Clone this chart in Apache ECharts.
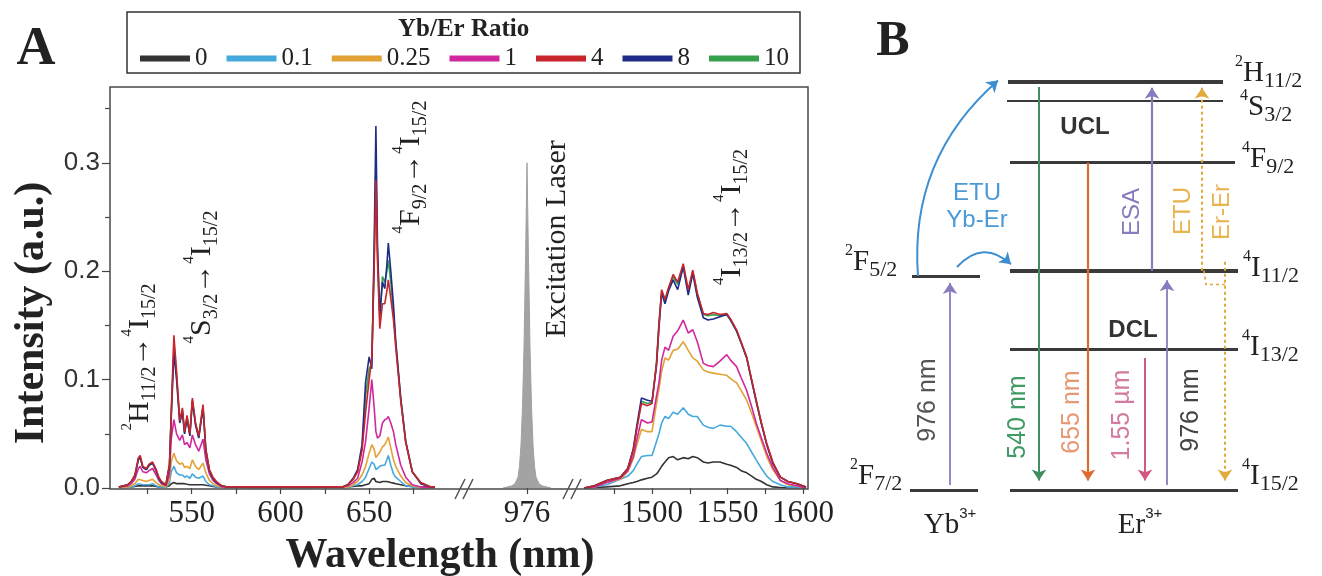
<!DOCTYPE html>
<html><head><meta charset="utf-8">
<script src="https://cdn.jsdelivr.net/npm/echarts@6/dist/echarts.min.js"></script>
<style>html,body{margin:0;padding:0;background:#fff}#c{width:1322px;height:576px}</style>
</head><body><div id="c"></div>
<script>
// ================= Panel A data =================
const RATIOS = ['0','0.1','0.25','1','4','8','10'];
// visible segment (green + red upconversion bands), nm
const WL_VIS = [509,514,516,518,520,521,522.5,524.5,526,528,530,531.5,533,535.5,537.5,538.5,540,541.5,543.3,544.8,546,547.4,549,550.4,552.2,554,556.4,558,560,562,564,567,570,580,600,620,635,638,641,643.5,646,648,650,651.5,652.8,653.8,654.7,656,657.5,658.8,660,660.8,662.2,663.7,665,667.8,670.6,674.3,679,684.7,687];
const VIS_0   = [.001,.001,.001,.0015,.002,.002,.002,.002,.002,.002,.0015,.001,.001,.001,.002,.004,.005,.004,.004,.004,.004,.0035,.003,.003,.003,.003,.003,.0025,.002,.0015,.001,.001,.001,.001,.001,.001,.001,.001,.0015,.002,.002,.003,.004,.008,.009,.006,.005,.005,.006,.006,.006,.006,.005,.0045,.004,.003,.002,.0015,.001,.001,.001];
const VIS_01  = [0,.0005,.001,.002,.004,.004,.003,.003,.003,.004,.002,.001,.001,.0005,.005,.015,.020,.014,.012,.012,.010,.011,.009,.013,.010,.009,.011,.006,.003,.002,.001,.0005,0,0,0,0,0,.0005,.002,.003,.006,.010,.018,.024,.022,.017,.017,.020,.021,.021,.026,.030,.021,.013,.010,.006,.002,.001,0,0,0];
const VIS_025 = [.0005,.001,.002,.004,.008,.009,.007,.006,.007,.008,.005,.003,.002,.001,.008,.024,.032,.025,.022,.023,.019,.020,.018,.026,.020,.017,.023,.014,.007,.004,.002,.001,.0005,.0005,.0005,.0005,.0005,.001,.003,.006,.012,.020,.032,.040,.036,.028,.027,.033,.038,.040,.044,.047,.037,.026,.020,.011,.005,.002,.0005,.0005,.0005];
const VIS_1   = [.001,.002,.004,.008,.018,.020,.015,.014,.016,.018,.012,.007,.004,.002,.012,.045,.063,.050,.044,.049,.040,.042,.037,.049,.040,.034,.045,.026,.013,.007,.004,.001,.001,.0005,.0005,.0005,.001,.002,.005,.009,.024,.043,.074,.100,.075,.052,.046,.048,.060,.063,.064,.066,.060,.052,.040,.021,.010,.003,.001,.0005,.0005];
const VIS_4   = [.001,.003,.006,.012,.028,.030,.020,.018,.022,.024,.017,.010,.006,.003,.022,.070,.141,.108,.062,.074,.052,.067,.050,.083,.060,.048,.077,.036,.017,.010,.006,.002,.001,.001,.001,.001,.001,.003,.008,.015,.035,.070,.100,.120,.200,.284,.210,.147,.170,.170,.182,.192,.175,.155,.130,.080,.042,.015,.005,.001,.001];
const VIS_8   = [.001,.003,.006,.011,.026,.028,.019,.017,.021,.023,.016,.009,.005,.003,.020,.065,.125,.100,.060,.070,.050,.064,.048,.080,.058,.046,.074,.034,.016,.009,.005,.002,.001,.001,.001,.001,.001,.003,.009,.017,.040,.098,.121,.110,.221,.334,.224,.160,.190,.184,.206,.226,.200,.169,.135,.083,.043,.015,.004,.001,.001];
const VIS_10  = [.001,.003,.006,.011,.027,.029,.019,.017,.021,.023,.016,.009,.005,.003,.021,.067,.132,.104,.061,.072,.051,.065,.049,.081,.059,.047,.075,.035,.016,.009,.005,.002,.001,.001,.001,.001,.001,.003,.008,.016,.037,.085,.110,.115,.210,.295,.215,.155,.195,.190,.200,.210,.190,.162,.133,.082,.043,.015,.005,.001,.001];
// infrared segment (4I13/2 -> 4I15/2 band), nm
const WL_IR = [1455,1462,1470,1479,1484,1487.6,1490,1493,1497,1500,1503,1504.6,1506.4,1508.6,1511,1514,1517,1520.7,1524,1527,1530,1534,1537,1540.6,1545,1549.5,1552,1556,1559,1562.7,1566,1569,1572.5,1576,1580,1585,1590,1596,1602];
const IR_0   = [0,.0005,.001,.002,.004,.005,.006,.0075,.009,.010,.013,.016,.020,.024,.028,.029,.026,.028,.027,.029,.028,.024,.023,.024,.024,.022,.021,.019,.016,.014,.011,.008,.006,.003,.001,.0005,0,0,0];
const IR_01  = [0,.001,.003,.008,.011,.016,.022,.029,.030,.030,.043,.050,.060,.066,.064,.070,.068,.074,.068,.066,.066,.058,.056,.055,.058,.057,.057,.052,.047,.041,.033,.026,.018,.011,.006,.003,.001,.001,0];
const IR_025 = [0,.001,.005,.008,.015,.027,.040,.054,.052,.052,.078,.091,.108,.120,.118,.127,.128,.135,.127,.120,.117,.109,.107,.106,.105,.104,.101,.097,.090,.081,.069,.057,.043,.029,.017,.007,.003,.002,0];
const IR_1   = [0,.001,.005,.009,.016,.029,.045,.063,.060,.061,.085,.097,.118,.130,.127,.140,.145,.155,.143,.146,.135,.115,.113,.112,.117,.123,.118,.112,.102,.090,.075,.060,.046,.032,.019,.007,.004,.002,0];
const IR_4   = [0,.002,.007,.010,.018,.035,.055,.078,.076,.078,.115,.150,.183,.174,.185,.197,.190,.207,.183,.201,.180,.161,.160,.162,.160,.161,.156,.146,.135,.121,.100,.081,.060,.041,.024,.010,.006,.004,.001];
const IR_8   = [0,.002,.007,.010,.018,.036,.058,.083,.081,.080,.113,.148,.180,.170,.182,.192,.183,.204,.178,.198,.176,.157,.155,.156,.158,.160,.155,.145,.134,.120,.099,.080,.059,.040,.023,.010,.006,.004,.001];
const IR_10  = [0,.002,.007,.010,.018,.035,.056,.080,.078,.079,.116,.152,.182,.173,.184,.195,.188,.205,.181,.200,.179,.160,.159,.160,.159,.160,.155,.145,.134,.120,.099,.080,.059,.040,.023,.010,.006,.004,.001];
// excitation laser
const LASER_WL = [960,966,968,970,971,972,973,974,975,976,977,978,979,980,981,982,984,986,992];
const LASER_I  = [0,.002,.004,.010,.020,.040,.075,.130,.210,.300,.210,.130,.075,.040,.020,.010,.004,.002,0];
// tick values / labels
const TICKS_VIS = [525,550,575,600,625,650,675];
const LABELS_VIS = [550,600,650];
const TICKS_LASER = [976];
const TICKS_IR = [1475,1500,1525,1550,1575,1600];
const LABELS_IR = [1500,1550,1600];
const Y_MAJOR = [0,0.1,0.2,0.3];
const Y_MINOR = [0.05,0.15,0.25,0.35];

// ================= Panel B data (energy in cm^-1) =================
const ER_LEVELS = ['2H11/2','4S3/2','4F9/2','4I11/2','4I13/2','4I15/2'];
const ER_E = [19124,18234,15330,10272,6604,0];
const YB_LEVELS = ['2F5/2','2F7/2'];
const YB_E = [10023,0];

// ================= layout / style (not data) =================
const SERIF = 'Liberation Serif', SANS = 'Liberation Sans';
const COLORS = {'0':'#333333','0.1':'#45a9dc','0.25':'#e2a236','1':'#d0289c','4':'#c8242b','8':'#1e2c88','10':'#37a04c'};
const DRAW_ORDER = ['0','0.1','0.25','1','10','8','4'];
const VIS = {'0':VIS_0,'0.1':VIS_01,'0.25':VIS_025,'1':VIS_1,'4':VIS_4,'8':VIS_8,'10':VIS_10};
const IR = {'0':IR_0,'0.1':IR_01,'0.25':IR_025,'1':IR_1,'4':IR_4,'8':IR_8,'10':IR_10};
const ER_X = [[128,343],[127,343],[130,355],[130,358],[130,358],[130,358]];
const YB_X = [[32,100],[30,98]];
const ER_W = [4,2,3,4,3,3];
const YB_W = [3,3];
const PURPLE='#8a7bbd', BLUE='#3d8fd1', GREEN='#3f8f62', ORANGE='#de6b2c', PINK='#d3587f', GOLD='#e2a93c';

const zip = (xs, ys) => xs.map((x,i)=>[x, ys[i]]);
const series = [];
DRAW_ORDER.forEach(r => {
  const base = {type:'line', name:r, symbol:'none', showSymbol:false, silent:true, animation:false,
    lineStyle:{width:1.6, color:COLORS[r]}, itemStyle:{color:COLORS[r]}};
  series.push(Object.assign({}, base, {xAxisIndex:0, yAxisIndex:0, data:zip(WL_VIS, VIS[r])}));
  series.push(Object.assign({}, base, {xAxisIndex:2, yAxisIndex:2, data:zip(WL_IR, IR[r])}));
});
series.push({type:'line', name:'Excitation Laser', xAxisIndex:1, yAxisIndex:1, symbol:'none', silent:true, animation:false,
  data:zip(LASER_WL, LASER_I), lineStyle:{width:1, color:'#a0a0a0'}, itemStyle:{color:'#a0a0a0'}, areaStyle:{color:'#a3a3a3', opacity:1}});

// Panel B energy levels
const levelData = ER_E.map((e,i)=>({name:ER_LEVELS[i], coords:[[ER_X[i][0],e],[ER_X[i][1],e]], lineStyle:{width:ER_W[i], color:'#3a3a3a'}}))
  .concat(YB_E.map((e,i)=>({name:YB_LEVELS[i], coords:[[YB_X[i][0],e],[YB_X[i][1],e]], lineStyle:{width:YB_W[i], color:'#3a3a3a'}})));
series.push({type:'lines', coordinateSystem:'cartesian2d', xAxisIndex:3, yAxisIndex:3, silent:true, animation:false,
  symbol:'none', lineStyle:{opacity:1}, data:levelData});
// vertical transitions
const arrowData = [
  {name:'Yb 976 nm', coords:[[70,ER_E[5]+230],[70,YB_E[0]-330]], lineStyle:{color:PURPLE, width:1.8}},
  {name:'540 nm', coords:[[159,ER_E[0]-250],[159,ER_E[5]+450]], lineStyle:{color:GREEN, width:2}},
  {name:'655 nm', coords:[[208,ER_E[2]],[208,ER_E[5]+450]], lineStyle:{color:ORANGE, width:2.2}},
  {name:'1.55 um', coords:[[265,ER_E[4]-420],[265,ER_E[5]+450]], lineStyle:{color:PINK, width:2}},
  {name:'Er 976 nm', coords:[[287,ER_E[5]+230],[287,ER_E[3]-450]], lineStyle:{color:PURPLE, width:1.8}},
  {name:'ESA', coords:[[272,ER_E[3]],[272,ER_E[0]-280]], lineStyle:{color:PURPLE, width:2.2}},
  {name:'ETU Er-Er', coords:[[322,ER_E[3]],[322,ER_E[0]-280]], lineStyle:{color:GOLD, width:2, type:[3,3]}},
  {name:'ETU Er-Er relax', coords:[[345,ER_E[3]+420],[345,ER_E[5]+450]], lineStyle:{color:GOLD, width:2, type:[3,3]}}
];
series.push({type:'lines', coordinateSystem:'cartesian2d', xAxisIndex:3, yAxisIndex:3, silent:true, animation:false,
  symbol:['none','arrow'], symbolSize:11, lineStyle:{opacity:1}, data:arrowData});
// bracket of dotted ETU Er-Er
series.push({type:'lines', coordinateSystem:'cartesian2d', xAxisIndex:3, yAxisIndex:3, silent:true, animation:false, polyline:true,
  symbol:'none', lineStyle:{opacity:1, color:GOLD, width:1.6, type:[3,3]},
  data:[{coords:[[324,ER_E[3]],[326,ER_E[3]-650],[345,ER_E[3]-650]]}]});
// ETU Yb->Er curved arrows
series.push({type:'lines', coordinateSystem:'cartesian2d', xAxisIndex:3, yAxisIndex:3, silent:true, animation:false,
  symbol:['none','arrow'], symbolSize:11, lineStyle:{opacity:1, color:BLUE, width:2},
  data:[
    {coords:[[38,YB_E[0]],[118,ER_E[0]+60]], lineStyle:{curveness:0.25}},
    {coords:[[77,YB_E[0]+420],[131,ER_E[3]+300]], lineStyle:{curveness:0.5}}
  ]});

// ================= text / decoration =================
const G = [];
function T(x, y, text, style, rot){ G.push({type:'text', x, y, rotation:rot||0, silent:true, z:10,
  style:Object.assign({text, align:'center', verticalAlign:'middle', fill:'#222'}, style)}); }
function L(x1,y1,x2,y2,stroke,w){ G.push({type:'line', silent:true, z:10, shape:{x1,y1,x2,y2}, style:{stroke, lineWidth:w}}); }
const R90 = Math.PI/2;
const richA = {
  m:{fontSize:30, fontFamily:SERIF, fill:'#222', lineHeight:40},
  b:{fontSize:20, fontFamily:SERIF, fill:'#222', lineHeight:22, verticalAlign:'bottom'},
  p:{fontSize:15, fontFamily:SERIF, fill:'#222', lineHeight:16, verticalAlign:'top'}
};
const richL = {
  m:{fontSize:29, fontFamily:SERIF, fill:'#222', lineHeight:38},
  b:{fontSize:22, fontFamily:SERIF, fill:'#222', lineHeight:22, verticalAlign:'bottom'},
  p:{fontSize:16, fontFamily:SERIF, fill:'#222', lineHeight:16, verticalAlign:'top'},
  s:{fontSize:15, fontFamily:SANS, fill:'#222', lineHeight:14, verticalAlign:'top'}
};
// frames
G.push({type:'rect', silent:true, z:9, shape:{x:110,y:87,width:698,height:402}, style:{fill:'none', stroke:'#4a4a4a', lineWidth:1.5}});
G.push({type:'rect', silent:true, z:9, shape:{x:127,y:12,width:673,height:61}, style:{fill:'none', stroke:'#333', lineWidth:1.5}});
// axis breaks
L(455,499,465,479,'#555',1.5); L(463,499,473,479,'#555',1.5);
L(563,499,573,479,'#555',1.5); L(571,499,581,479,'#555',1.5);
// panel labels and axis titles
T(36, 50, 'A', {font:'bold 54px "Liberation Serif"'});
T(893, 42, 'B', {font:'bold 50px "Liberation Serif"'});
T(32, 313, 'Intensity (a.u.)', {font:'bold 42px "Liberation Serif"'}, R90);
T(440, 556, 'Wavelength (nm)', {font:'bold 42px "Liberation Serif"'});
// band annotations
T(140, 357, '{p|2}{m|H}{b|11/2}{m|→}{p|4}{m|I}{b|15/2}', {rich:richA}, R90);
T(202, 277, '{p|4}{m|S}{b|3/2}{m|→}{p|4}{m|I}{b|15/2}', {rich:richA}, R90);
T(411, 167, '{p|4}{m|F}{b|9/2}{m|→}{p|4}{m|I}{b|15/2}', {rich:richA}, R90);
T(557, 239, 'Excitation Laser', {font:'30px "Liberation Serif"'}, R90);
T(732, 217, '{p|4}{m|I}{b|13/2}{m|→}{p|4}{m|I}{b|15/2}', {rich:richA}, R90);
// Panel B level labels
const lvl = (x,y,t)=>T(x,y,t,{rich:richL, align:'left'});
lvl(1235, 73, '{p|2}{m|H}{b|11/2}');
lvl(1240, 107, '{p|4}{m|S}{b|3/2}');
lvl(1242, 159, '{p|4}{m|F}{b|9/2}');
lvl(1243, 268, '{p|4}{m|I}{b|11/2}');
lvl(1242, 347, '{p|4}{m|I}{b|13/2}');
lvl(1242, 476, '{p|4}{m|I}{b|15/2}');
lvl(845, 262, '{p|2}{m|F}{b|5/2}');
lvl(850, 476, '{p|2}{m|F}{b|7/2}');
T(950, 525, '{m|Yb}{s|3+}', {rich:richL});
T(1140, 525, '{m|Er}{s|3+}', {rich:richL});
// Panel B process labels
const sans = (sz, c, w) => ({font:(w?'bold ':'')+sz+'px "Liberation Sans"', fill:c});
T(977, 193, 'ETU', sans(24, '#4a9ad8'));
T(977, 220, 'Yb-Er', sans(24, '#4a9ad8'));
T(1085, 127, 'UCL', sans(24, '#333', true));
T(1133, 330, 'DCL', sans(24, '#333', true));
T(1132, 212, 'ESA', sans(24, PURPLE), R90);
T(1183, 211, 'ETU', sans(24, '#e8b450'), R90);
T(1222, 212, 'Er-Er', sans(24, '#e8b450'), R90);
T(928, 400, '976 nm', sans(25, '#555'), R90);
T(1018, 417, '540 nm', sans(25, '#3f9a64'), R90);
T(1072, 412, '655 nm', sans(25, '#e59a74'), R90);
T(1122, 415, '1.55 µm', sans(25, '#d27aa0'), R90);
T(1191, 410, '976 nm', sans(25, '#444'), R90);

// ================= axes =================
const xCommon = {type:'value', position:'bottom', axisLine:{show:false}, splitLine:{show:false},
  axisTick:{show:true, length:6, inside:false, lineStyle:{color:'#444', width:1.2}},
  axisLabel:{fontFamily:SERIF, fontSize:31, color:'#222', margin:10, formatter:v=>String(v)}};
const xAxes = [
  Object.assign({}, xCommon, {gridIndex:0, min:504, max:695.55, axisTick:Object.assign({}, xCommon.axisTick, {customValues:TICKS_VIS}), axisLabel:Object.assign({}, xCommon.axisLabel, {customValues:LABELS_VIS})}),
  Object.assign({}, xCommon, {gridIndex:1, min:936.67, max:1003.33, axisTick:Object.assign({}, xCommon.axisTick, {customValues:TICKS_LASER}), axisLabel:Object.assign({}, xCommon.axisLabel, {customValues:TICKS_LASER})}),
  Object.assign({}, xCommon, {gridIndex:2, min:1451, max:1603.3, axisTick:Object.assign({}, xCommon.axisTick, {customValues:TICKS_IR}), axisLabel:Object.assign({}, xCommon.axisLabel, {customValues:LABELS_IR})}),
  {type:'value', gridIndex:3, min:0, max:400, show:false}
];
const yHidden = (g)=>({type:'value', gridIndex:g, min:0, max:0.37, show:false});
const yAxes = [
  {type:'value', gridIndex:0, position:'left', min:0, max:0.37, axisLine:{show:false}, splitLine:{show:false},
   axisTick:{show:true, length:8, lineStyle:{color:'#444', width:1.2}, customValues:Y_MAJOR},
   axisLabel:{customValues:Y_MAJOR, formatter:v=>v.toFixed(1), fontFamily:SANS, fontSize:26, color:'#333', margin:10}},
  yHidden(1), yHidden(2),
  {type:'value', gridIndex:3, min:-1000, max:20000, show:false},
  {type:'value', gridIndex:0, position:'left', offset:0, min:0, max:0.37, axisLine:{show:false}, splitLine:{show:false}, axisLabel:{show:false},
   axisTick:{show:true, length:5, lineStyle:{color:'#444', width:1.2}, customValues:Y_MINOR}}
];

const chart = echarts.init(document.getElementById('c'), null, {renderer:'canvas'});
chart.setOption({
  animation:false,
  backgroundColor:'#fff',
  textStyle:{fontFamily:SERIF},
  title:{text:'Yb/Er Ratio', left:398, top:17, padding:0, textStyle:{fontFamily:SERIF, fontWeight:'bold', fontSize:25, color:'#222'}},
  legend:{data:RATIOS, left:140, top:46, padding:0, icon:'rect', itemWidth:50, itemHeight:6, itemGap:19,
    selectedMode:false, textStyle:{fontFamily:SERIF, fontSize:25, color:'#222', padding:[0,0,0,0]}},
  grid:[
    {left:110, top:87, width:340, height:401},
    {left:468, top:87, width:100, height:401},
    {left:578, top:87, width:230, height:401},
    {left:880, top:63, width:400, height:448.35}
  ],
  xAxis:xAxes, yAxis:yAxes, series, graphic:G
});
</script></body></html>
